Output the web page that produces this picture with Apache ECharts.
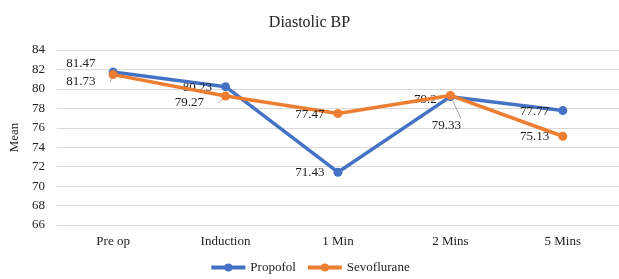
<!DOCTYPE html>
<html>
<head>
<meta charset="utf-8">
<script src="https://cdn.jsdelivr.net/npm/echarts@6/dist/echarts.min.js"></script>
<style>html,body{margin:0;padding:0;background:#fff}#c{width:619px;height:279px}</style>
</head>
<body>
<div id="c"></div>
<script>
const categories = ['Pre op', 'Induction', '1 Min', '2 Mins', '5 Mins'];
const propofol = [81.73, 80.23, 71.43, 79.2, 77.77];
const sevoflurane = [81.47, 79.27, 77.47, 79.33, 75.13];
const yTicks = [66, 68, 70, 72, 74, 76, 78, 80, 82, 84];

const FONT = '"Liberation Serif", "Times New Roman", serif';
// label placement per point (style only)
const propLabelCfg = [
  {position: 'left', offset: [-4, 10], line: true},
  {position: 'left', offset: [0, 1], line: false},
  {position: 'left', offset: [0, 0], line: false},
  {position: 'left', offset: [0, 3], line: false},
  {position: 'left', offset: [0, 1], line: false}
];
const sevoLabelCfg = [
  {position: 'left', offset: [-4, -11], line: true},
  {position: 'left', offset: [-8, 7], line: true},
  {position: 'left', offset: [0, 1], line: false},
  {position: 'bottom', offset: [-4, 10], line: true},
  {position: 'left', offset: [0, 0], line: false}
];
function build(vals, cfg) {
  return vals.map((v, i) => ({
    value: v,
    label: {position: cfg[i].position, offset: cfg[i].offset},
    labelLine: {show: cfg[i].line}
  }));
}
const chart = echarts.init(document.getElementById('c'), null, {renderer: 'canvas'});
const labelCommon = {show: true, fontFamily: FONT, fontSize: 13, color: '#222', distance: 9};
chart.setOption({
  animation: false,
  title: {text: 'Diastolic BP', left: 'center', top: 10, textStyle: {fontFamily: FONT, fontSize: 16, fontWeight: 'normal', color: '#222'}},
  grid: {left: 53, right: -6, top: 50, bottom: 54},
  legend: {
    bottom: 0, left: 'center', itemWidth: 34, itemHeight: 10, itemGap: 10,
    textStyle: {fontFamily: FONT, fontSize: 13, color: '#222'},
    lineStyle: {width: 4},
    data: ['Propofol', 'Sevoflurane']
  },
  xAxis: {
    type: 'category', data: categories, boundaryGap: true,
    axisLine: {show: false}, axisTick: {show: false},
    axisLabel: {fontFamily: FONT, fontSize: 13, color: '#222', margin: 10}
  },
  yAxis: {
    type: 'value', min: yTicks[0], max: yTicks[yTicks.length - 1], interval: 2,
    name: 'Mean', nameLocation: 'middle', nameGap: 31, nameRotate: 90,
    nameTextStyle: {fontFamily: FONT, fontSize: 13, color: '#222'},
    axisLine: {show: false}, axisTick: {show: false},
    axisLabel: {fontFamily: FONT, fontSize: 13, color: '#222', margin: 12},
    splitLine: {lineStyle: {color: '#d9d9d9', width: 1}}
  },
  series: [
    {
      name: 'Propofol', type: 'line', data: build(propofol, propLabelCfg),
      symbol: 'circle', symbolSize: 9,
      lineStyle: {color: '#4472C4', width: 3.5}, itemStyle: {color: '#4472C4'},
      label: labelCommon,
      labelLine: {lineStyle: {color: '#a6a6a6', width: 1}},
      z: 2
    },
    {
      name: 'Sevoflurane', type: 'line', data: build(sevoflurane, sevoLabelCfg),
      symbol: 'circle', symbolSize: 9,
      lineStyle: {color: '#ED7D31', width: 3.5}, itemStyle: {color: '#ED7D31'},
      label: labelCommon,
      labelLine: {lineStyle: {color: '#a6a6a6', width: 1}},
      z: 3
    }
  ]
});
</script>
</body>
</html>
